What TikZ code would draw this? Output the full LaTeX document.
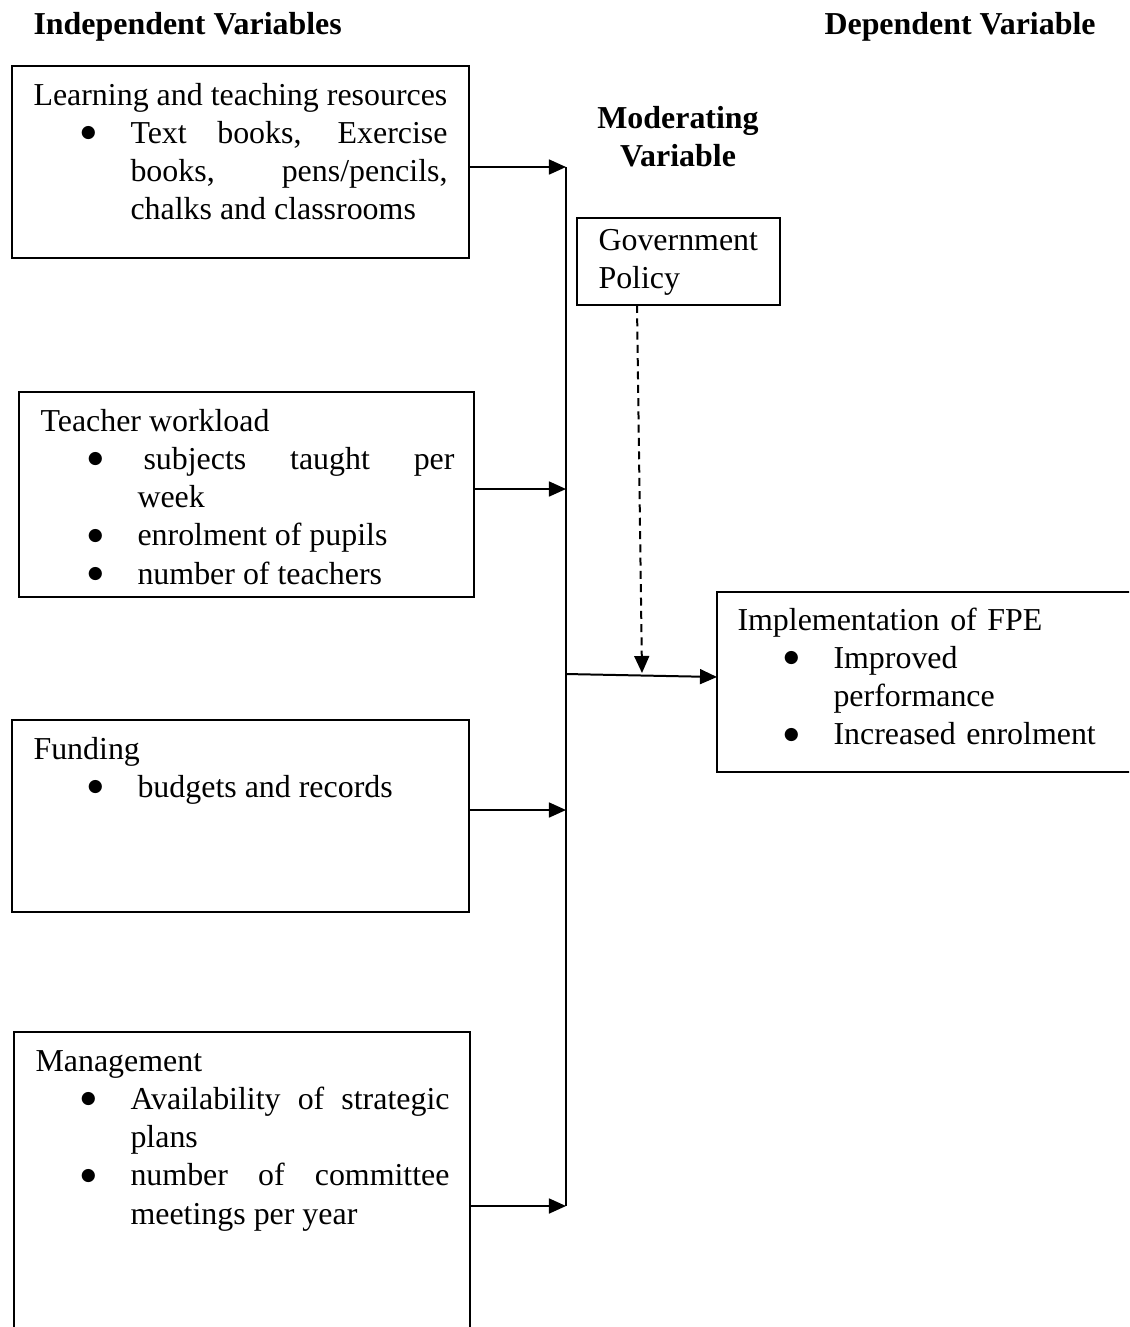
\documentclass[tikz,border=0pt]{standalone}
\usepackage{fontspec}
\setmainfont{Liberation Serif}
\newfontfamily\dotfont{DejaVu Sans}
\usetikzlibrary{arrows.meta}

\newlength\px
\setlength\px{0.376pt}
% bullet item: text starts #1 px in, bullet centred 42 px before it
\newcommand\bitem[2]{\par\noindent\hangindent=#1\px\hangafter=1%
  \makebox[#1\px][l]{\hspace{\dimexpr#1\px-42\px\relax}\makebox[0pt]{\raisebox{2.1pt}{\dotfont\fontsize{6.5}{7}\selectfont ●}}}#2\par}

\begin{document}
\begin{tikzpicture}[x=0.376pt,y=-0.376pt,
		box/.style={draw,line width=0.75pt,inner sep=0pt,outer sep=0pt,anchor=north west},
		txt/.style={inner sep=0pt,anchor=base west,align=justify,text width=414\px,
			font=\fontsize{12}{14.4}\selectfont},
		hd/.style={inner sep=0pt,anchor=base west,font=\fontsize{12}{14.4}\selectfont\bfseries},
		arr/.style={line width=0.75pt,-{Triangle[length=6.4pt,width=5.6pt]}},
		dasharr/.style={arr,dash pattern=on 3pt off 2pt}]
		\useasboundingbox (0,0) rectangle (1129,1327);
		\clip (0,0) rectangle (1129,1327);
		\fill[white] (0,0) rectangle (1129,1327);
		
		% Headings
		\node[hd] (indep) at (33,34) {Independent Variables};
		\node[hd] (dep) at (824,34) {Dependent Variable};
		\node[hd,anchor=base,align=center,text width=200\px] (moder) at (678,128) {Moderating\\Variable};
		
		% Independent variables
		\node[box,minimum width=457\px,minimum height=192\px] (res) at (12,66) {};
		\node[txt] (res-t) at (33,105) {\mbox{Learning and teaching resources}%
			\bitem{97}{Text books, Exercise\linebreak books, pens/pencils,\linebreak chalks and classrooms}};
		
		\node[box,minimum width=455\px,minimum height=205\px] (load) at (19,392) {};
		\node[txt] (load-t) at (40,431) {\mbox{Teacher workload}%
			\bitem{97}{\hspace{6\px}subjects taught per\linebreak week}%
			\bitem{97}{enrolment of pupils}%
			\bitem{97}{number of teachers}};
		
		\node[box,minimum width=457\px,minimum height=192\px] (fund) at (12,720) {};
		\node[txt] (fund-t) at (33,759) {\mbox{Funding}\bitem{104}{budgets and records}};
		
		\node[box,minimum width=456\px,minimum height=320\px] (mgmt) at (14,1032) {};
		\node[txt] (mgmt-t) at (35,1071) {\mbox{Management}%
			\bitem{95}{Availability of strategic\linebreak plans}%
			\bitem{95}{number of committee\linebreak meetings per year}};
		
		% Moderating variable
		\node[box,minimum width=203\px,minimum height=87\px] (gov) at (577,218) {};
		\node[txt,align=left,text width=180\px] (gov-t) at (598,250) {Government\\Policy};
		
		% Dependent variable
		\node[box,minimum width=430\px,minimum height=180\px] (fpe) at (717,592) {};
		\node[txt,align=left,text width=390\px] (fpe-t) at (737,630) {Implementation of FPE%
			\bitem{96}{Improved\newline performance}%
			\bitem{96}{Increased enrolment}};
		
		% Bus
		\coordinate (j1) at (566,167);
		\coordinate (j2) at (566,489);
		\coordinate (j3) at (566,810);
		\coordinate (j4) at (566,1206);
		\coordinate (jo) at (566,674);
		\coordinate (mod) at (642,673);
		
		\draw[line width=0.75pt] (j1) -- (j4);
		\foreach \b/\j in {res/j1,load/j2,fund/j3,mgmt/j4}
			\draw[arr] (\b.east |- \j) -- (\j);
		\draw[arr] (jo) -- ([yshift=5\px]fpe.west);
		\draw[dasharr] ([xshift=60\px]gov.south west) -- (mod);
	\end{tikzpicture}
\end{document}
